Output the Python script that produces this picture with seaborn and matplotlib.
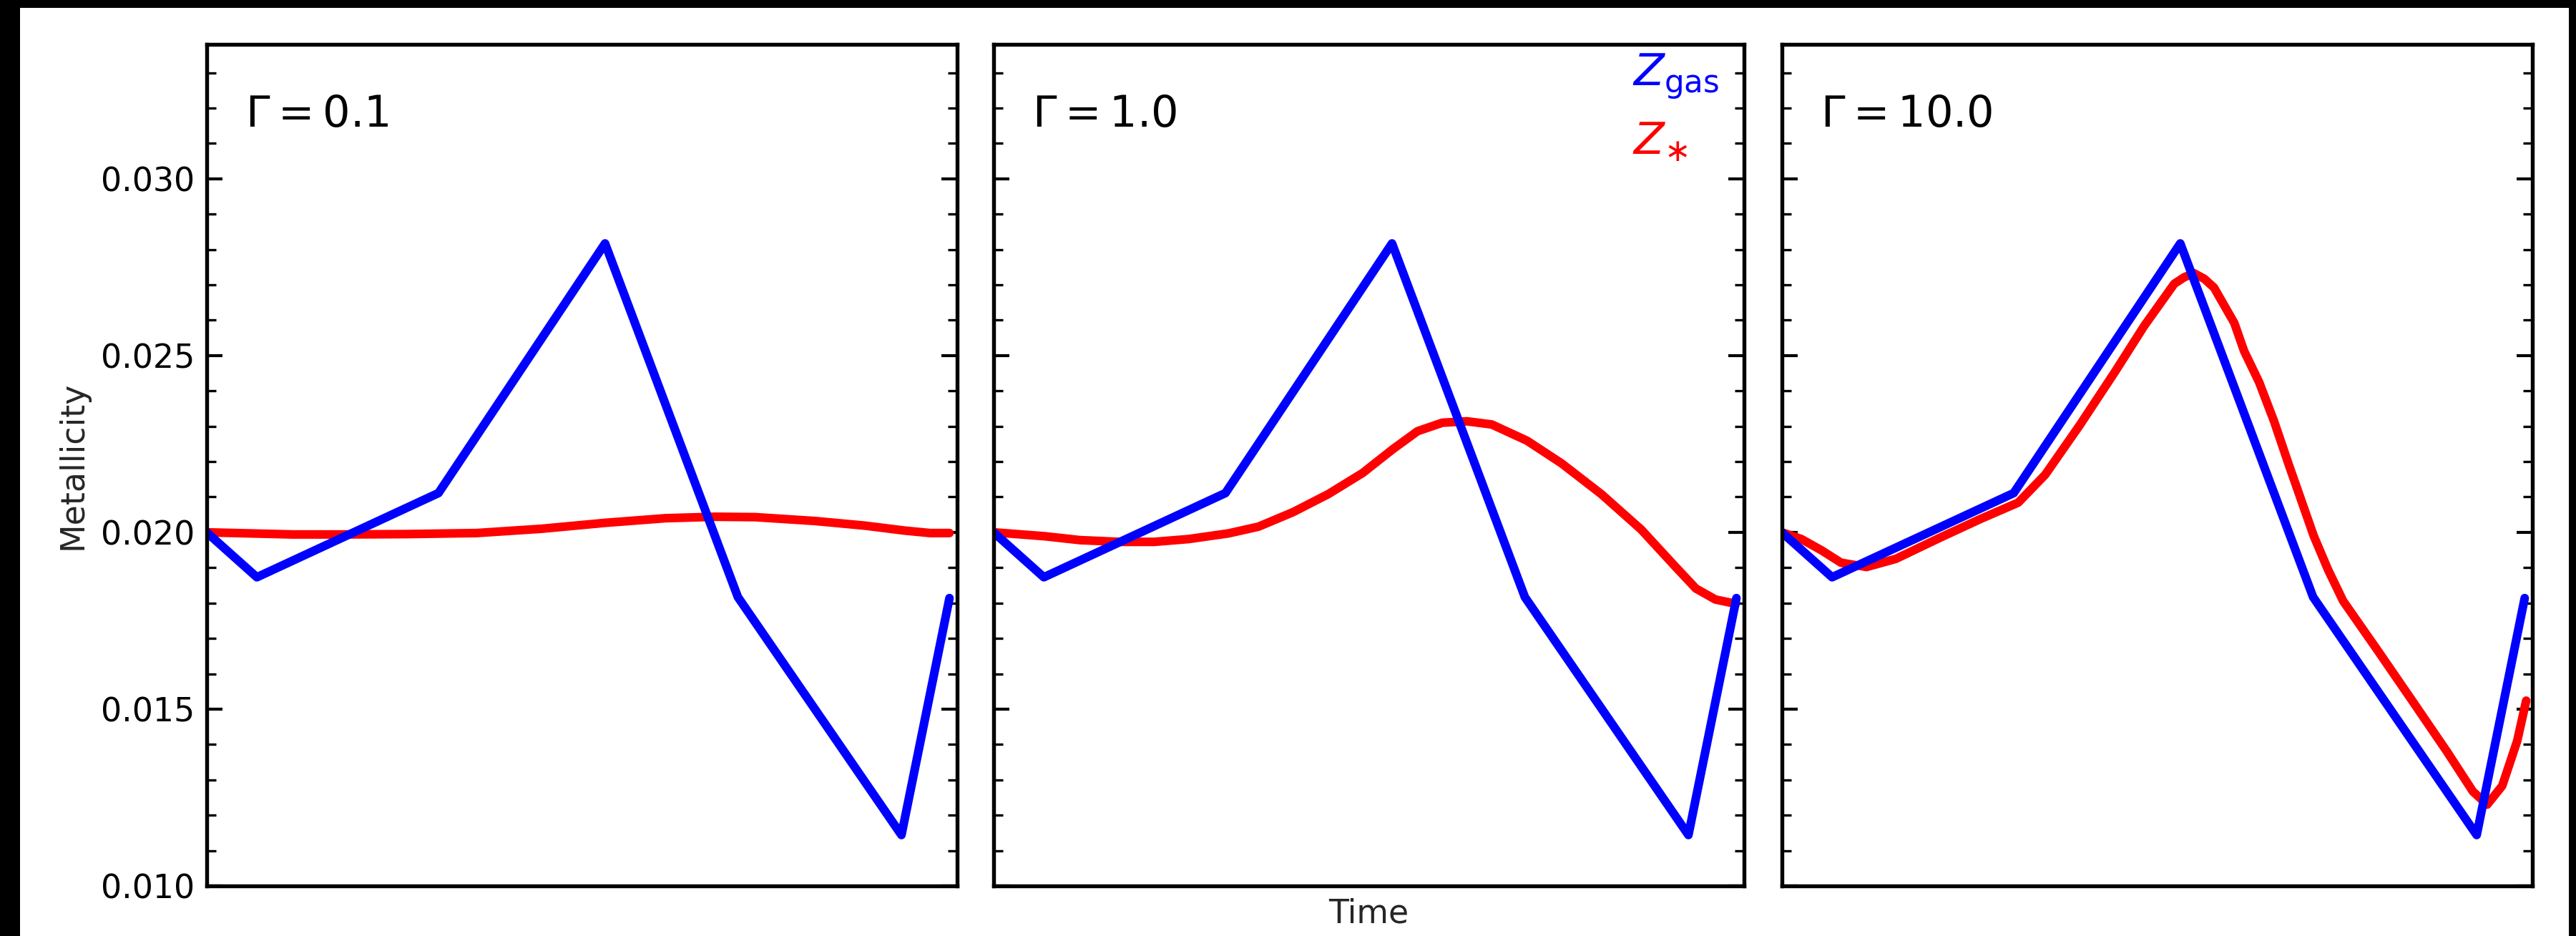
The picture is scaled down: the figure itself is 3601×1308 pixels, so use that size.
import matplotlib
matplotlib.use("Agg")
import matplotlib.pyplot as plt
from matplotlib.patches import Rectangle
from matplotlib.ticker import MultipleLocator, FormatStrFormatter
import pandas as pd
import seaborn as sns

# ---- data -------------------------------------------------------------
# Gas-phase metallicity history (same in every panel), time in units of the run length
time_gas = [0.000, 0.067, 0.309, 0.531, 0.708, 0.926, 0.990]
z_gas = [0.02000, 0.01873, 0.02111, 0.02817, 0.01817, 0.01144, 0.01814]

# Stellar metallicity for Gamma = 0.1
time_star_g01 = [0.000, 0.115, 0.181, 0.267, 0.360, 0.446, 0.532, 0.612, 0.678,
                 0.731, 0.811, 0.877, 0.930, 0.964, 0.990]
z_star_g01 = [0.02000, 0.01994, 0.01994, 0.01995, 0.01998, 0.02010, 0.02027, 0.02040,
              0.02044, 0.02043, 0.02032, 0.02019, 0.02005, 0.01998, 0.01998]

# Stellar metallicity for Gamma = 1.0
time_star_g1 = [0.000, 0.068, 0.115, 0.168, 0.214, 0.260, 0.313, 0.353, 0.399, 0.446,
                0.492, 0.532, 0.565, 0.598, 0.631, 0.664, 0.711, 0.757, 0.810, 0.863,
                0.909, 0.936, 0.962, 0.989]
z_star_g1 = [0.02000, 0.01989, 0.01978, 0.01973, 0.01973, 0.01981, 0.01997, 0.02016,
             0.02057, 0.02108, 0.02168, 0.02235, 0.02286, 0.02310, 0.02314, 0.02305,
             0.02259, 0.02195, 0.02108, 0.02008, 0.01902, 0.01841, 0.01810, 0.01798]

# Stellar metallicity for Gamma = 10.0
time_star_g10 = [0.000, 0.026, 0.053, 0.079, 0.113, 0.152, 0.212, 0.265, 0.315, 0.351,
                 0.397, 0.444, 0.483, 0.523, 0.536, 0.549, 0.563, 0.576, 0.603, 0.616,
                 0.636, 0.656, 0.675, 0.692, 0.709, 0.728, 0.748, 0.795, 0.841, 0.887,
                 0.921, 0.940, 0.960, 0.980, 0.992]
z_star_g10 = [0.02000, 0.01981, 0.01949, 0.01914, 0.01902, 0.01925, 0.01986, 0.02038,
              0.02084, 0.02163, 0.02303, 0.02454, 0.02584, 0.02703, 0.02721, 0.02733,
              0.02717, 0.02692, 0.02592, 0.02513, 0.02425, 0.02314, 0.02195, 0.02092,
              0.01989, 0.01894, 0.01806, 0.01663, 0.01521, 0.01378, 0.01267, 0.01230,
              0.01283, 0.01410, 0.01524]

gamma_labels = [r"$\Gamma = 0.1$", r"$\Gamma = 1.0$", r"$\Gamma = 10.0$"]
star_times = [time_star_g01, time_star_g1, time_star_g10]
star_values = [z_star_g01, z_star_g1, z_star_g10]

# ---- style ------------------------------------------------------------
sns.set_style("ticks")
plt.rcParams["font.family"] = ["DejaVu Sans"]
plt.rcParams["mathtext.fontset"] = "dejavusans"
plt.rcParams["axes.linewidth"] = 1.3
plt.rcParams["axes.edgecolor"] = "black"

W, H, DPI = 3601, 1308, 300
fig = plt.figure(figsize=(W / DPI, H / DPI), dpi=DPI, facecolor="black")
fig.patches.append(Rectangle((28 / W, 0), (3591 - 28) / W, (H - 11) / H,
                             transform=fig.transFigure, facecolor="white",
                             edgecolor="none", zorder=-10))

ax_w = 0.2913
ax_b = 0.0535
ax_h = 0.8991
lefts = [0.0802, 0.3857, 0.6917]
axes = [fig.add_axes([l, ax_b, ax_w, ax_h]) for l in lefts]

line_kw = dict(linewidth=2.9, solid_capstyle="round", solid_joinstyle="round")

for i, ax in enumerate(axes):
    ax.set_facecolor("white")
    df_star = pd.DataFrame({"time": star_times[i], "Z": star_values[i]})
    df_gas = pd.DataFrame({"time": time_gas, "Z": z_gas})
    sns.lineplot(data=df_star, x="time", y="Z", color="#ff0000", ax=ax,
                 legend=False, sort=False, **line_kw)
    sns.lineplot(data=df_gas, x="time", y="Z", color="#0000ff", ax=ax,
                 legend=False, sort=False, **line_kw)

    ax.set_xlim(0, 1)
    ax.set_ylim(0.010, 0.0338)
    ax.set_xticks([])
    ax.set_xlabel("")
    ax.set_ylabel("")
    ax.yaxis.set_major_locator(MultipleLocator(0.005))
    ax.yaxis.set_minor_locator(MultipleLocator(0.001))
    ax.yaxis.set_major_formatter(FormatStrFormatter("%.3f"))
    ax.tick_params(axis="y", which="both", direction="in", left=True, right=True,
                   colors="black", labelsize=11, pad=4)
    ax.tick_params(axis="y", which="major", length=5.3, width=1.0)
    ax.tick_params(axis="y", which="minor", length=3.1, width=0.8)
    if i > 0:
        ax.tick_params(axis="y", labelleft=False)
    for sp in ax.spines.values():
        sp.set_visible(True)
        sp.set_linewidth(1.3)
        sp.set_color("black")

    ax.text(0.052, 0.902, gamma_labels[i], transform=ax.transAxes,
            fontsize=14.5, ha="left", va="baseline", color="black")

axes[0].set_ylabel("Metallicity", fontsize=11, labelpad=4)
axes[1].set_xlabel("Time", fontsize=11, labelpad=4)

# series key, written in the series colours
axes[1].text(0.851, 0.9507, r"$Z_{\rm gas}$", transform=axes[1].transAxes,
             fontsize=15, color="#0000ff", ha="left", va="baseline")
axes[1].text(0.851, 0.8695, r"$Z_{\ast}$", transform=axes[1].transAxes,
             fontsize=15, color="#ff0000", ha="left", va="baseline")

fig.savefig("out.png", dpi=DPI, facecolor=fig.get_facecolor())
